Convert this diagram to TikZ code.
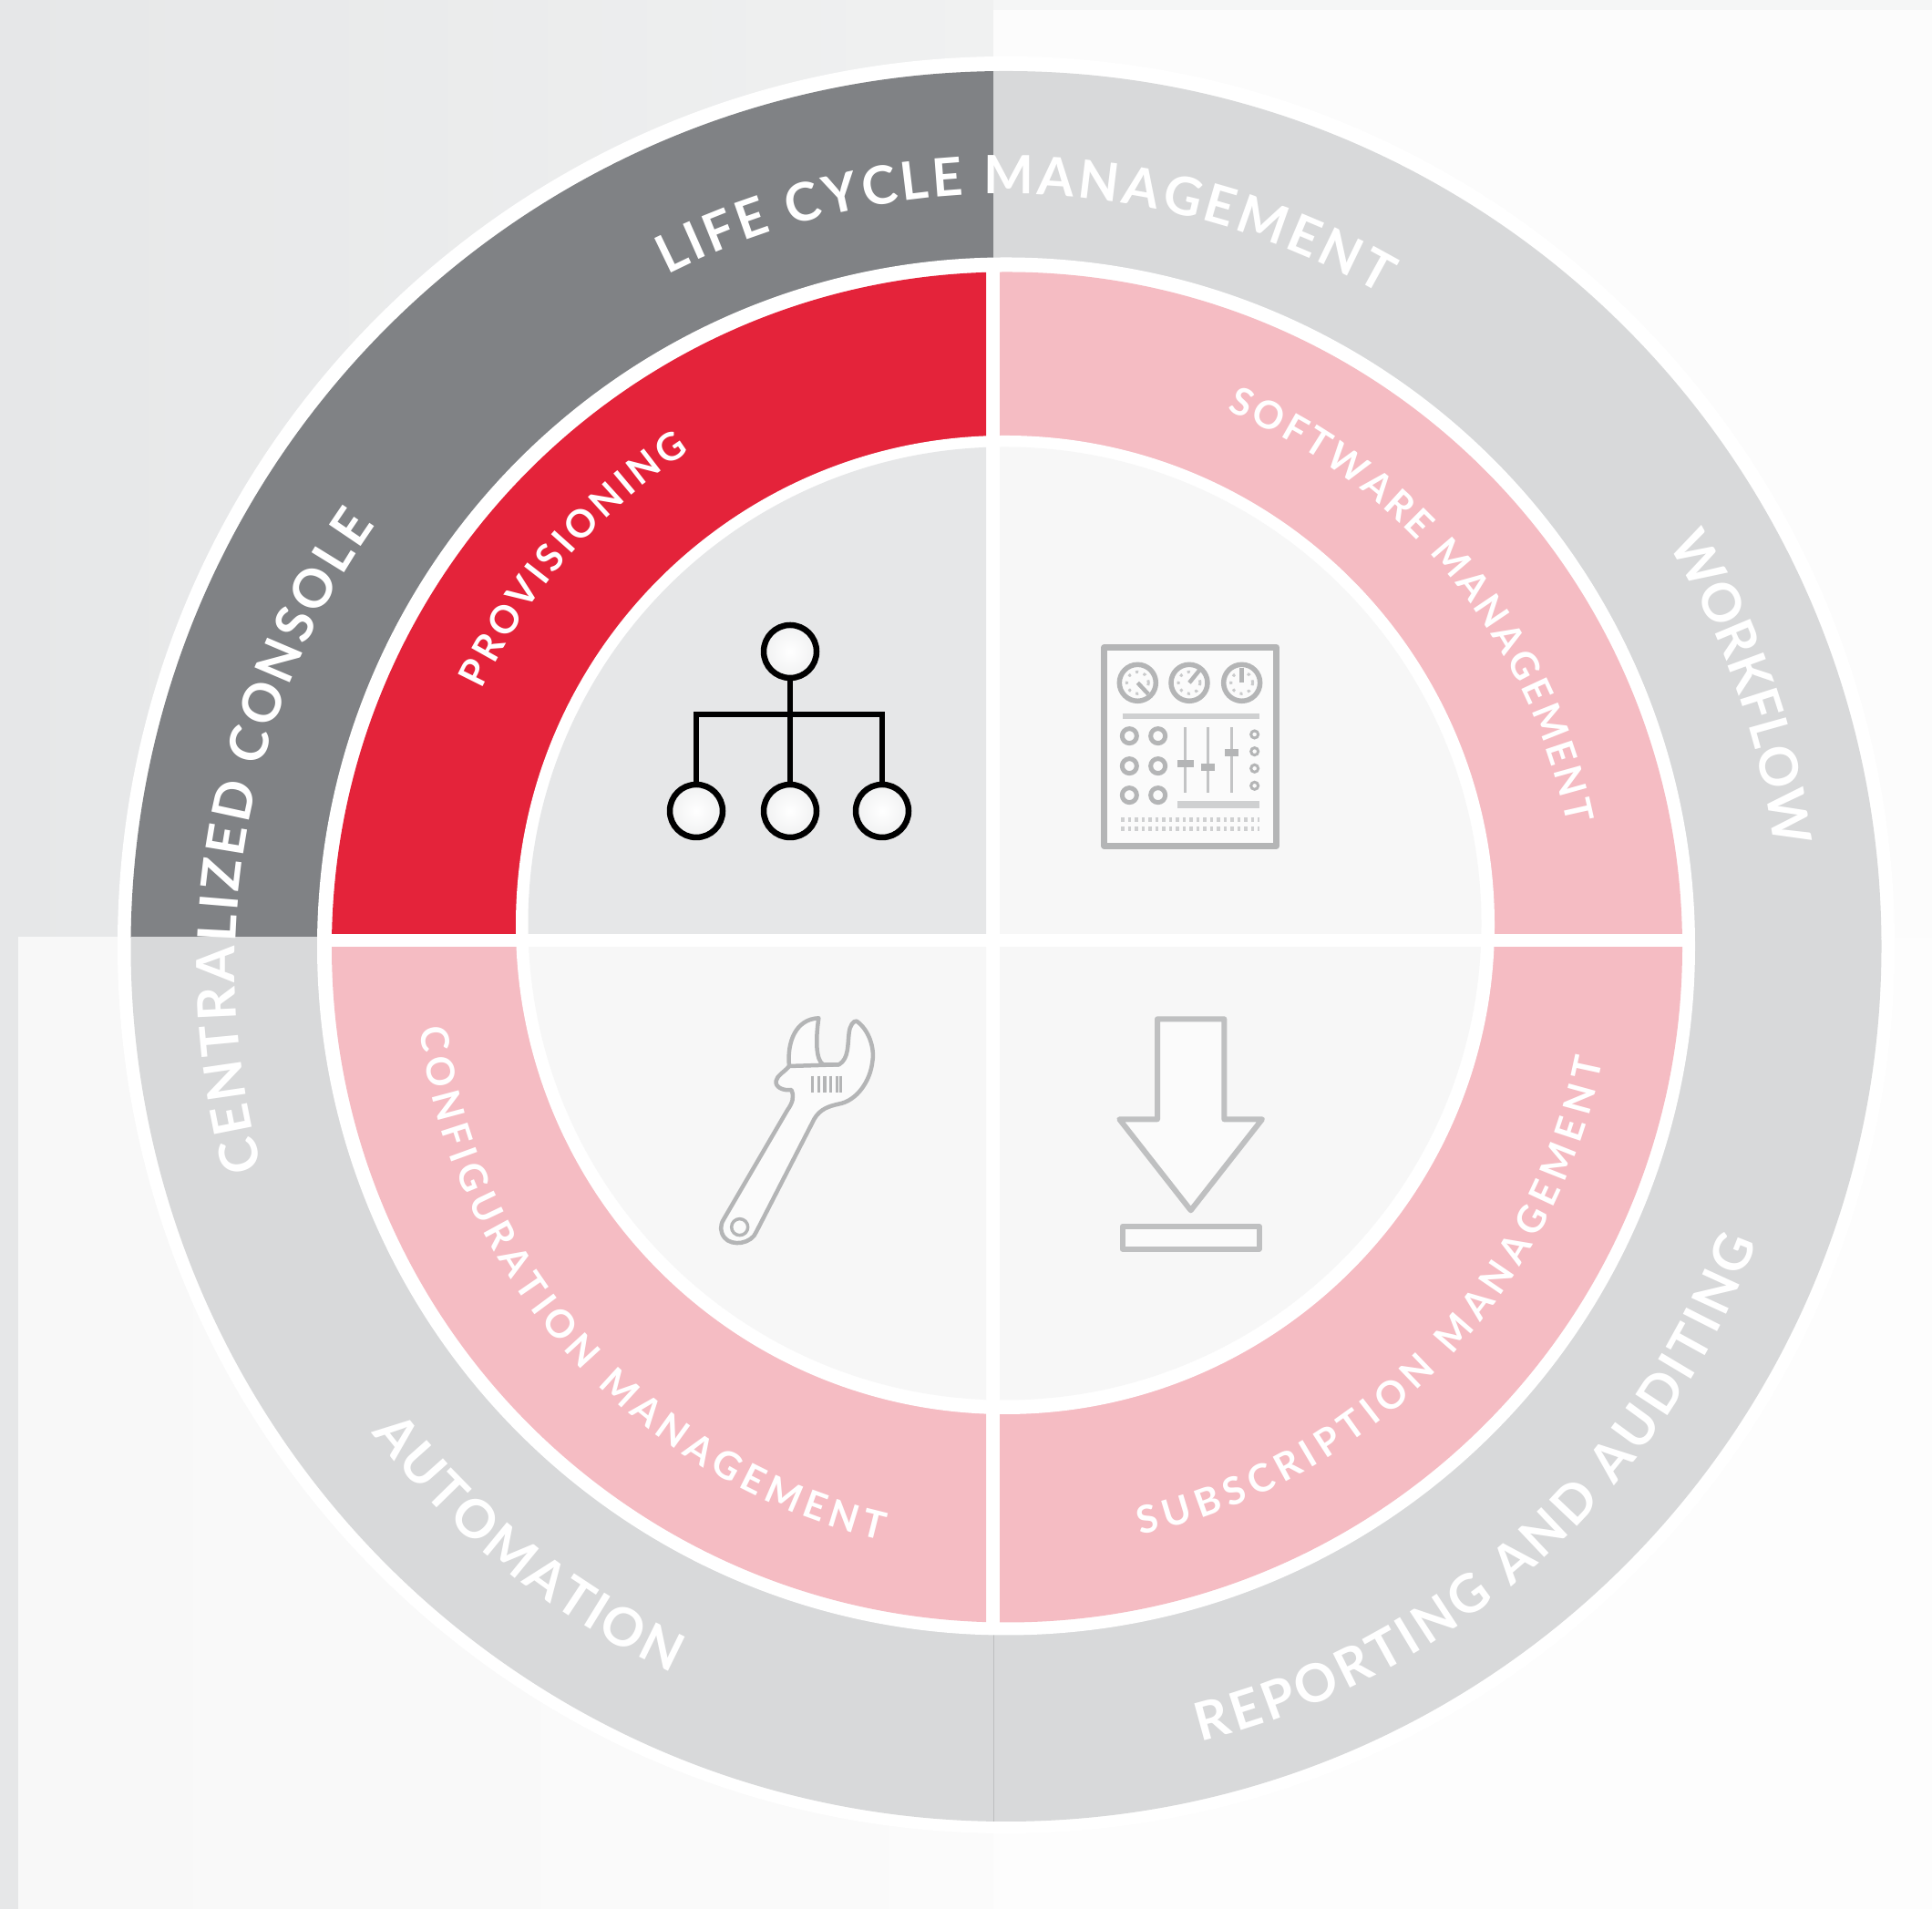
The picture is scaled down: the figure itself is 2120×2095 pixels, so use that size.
\documentclass[tikz,border=0pt]{standalone}
\usepackage{fontspec}
\usetikzlibrary{decorations.text,shadings}
\newfontfamily\labfont{Lato}[BoldFont={Lato Bold}]
\definecolor{pagegray}{HTML}{E6E7E8}
\definecolor{pagelight}{HTML}{F1F2F2}
\definecolor{panelA}{HTML}{FCFCFC}
\definecolor{panelB}{HTML}{F8F8F8}
\definecolor{panelC}{HTML}{FDFDFD}
\definecolor{ringdark}{HTML}{808285}
\definecolor{ringlight}{HTML}{D8D9DA}
\definecolor{redband}{HTML}{E4233A}
\definecolor{pinkband}{HTML}{F5BCC3}
\definecolor{discgray}{HTML}{E6E7E8}
\definecolor{disclight}{HTML}{F7F7F7}
\definecolor{iconline}{HTML}{B4B5B6}
\definecolor{iconpale}{HTML}{CFD0D1}
\newcommand\outerlab{\labfont\bfseries\fontsize{58}{58}\selectfont\color{white}}
\newcommand\innerlab{\labfont\bfseries\fontsize{42}{42}\selectfont\color{white}}
% centre x, centre y, radius, start angle, end angle, format, text
\newcommand\arctext[7]{%
  \path[shift={(#1,#2)},decorate,decoration={text along path,
     text={|#6|#7},text align={fit to path}}]
     (#4:#3) arc[start angle=#4,end angle=#5,radius=#3];}
\tikzset{
  orgnode/.style={circle,draw=black,line width=6.5pt,minimum size=58pt,inner sep=0pt,
     inner color=white,outer color=discgray!60},
  orgline/.style={draw=black,line width=6.5pt},
  iconstroke/.style={draw=iconline,line width=5pt,line join=round},
  zoomA/.style={shift={(#1)},x=0.3333pt,y=-0.3333pt}
}
\begin{document}
\begin{tikzpicture}[x=1pt,y=1pt]
\useasboundingbox (0,0) rectangle (2120,2095);
% page background and panels
\shade[left color=pagegray,right color=pagelight] (0,0) rectangle (1200,2095);
\fill[pagelight!70!white] (1090,0) rectangle (2120,2095);
\fill[panelA] (1090,1066) rectangle (2120,2084);
\shade[left color=panelB,right color=panelB!60!white] (20,0) rectangle (1090,1066);
\fill[panelC] (1090,0) rectangle (2120,1066);
% white halo
\fill[white] (1104,1058) circle[radius=975];
% outer ring
\begin{scope}\clip (0,1066) rectangle (1090.3,2095);
  \fill[ringdark] (1104,1056.5) circle[radius=960.5];\end{scope}
\begin{scope}\clip (1090.3,1066) rectangle (2120,2095);
  \fill[ringlight] (1104,1056.5) circle[radius=960.5];\end{scope}
\begin{scope}\clip (0,0) rectangle (2120,1066);
  \fill[ringlight] (1104,1056.5) circle[radius=960.5];\end{scope}
\draw[ringlight!88!black,line width=1pt] (1090.3,96) -- (1090.3,302);
\fill[white] (1104,1056.5) circle[radius=756];
% inner band quadrants
\begin{scope}\clip (0,1070) rectangle (1082,2095);
  \fill[redband] (1105,1055.5) circle[radius=741];\end{scope}
\begin{scope}\clip (1097,1070) rectangle (2120,2095);
  \fill[pinkband] (1105,1055.5) circle[radius=741];\end{scope}
\begin{scope}\clip (0,0) rectangle (1082,1055);
  \fill[pinkband] (1105,1055.5) circle[radius=741];\end{scope}
\begin{scope}\clip (1097,0) rectangle (2120,1055);
  \fill[pinkband] (1105,1055.5) circle[radius=741];\end{scope}
\fill[white] (1103,1080) circle[radius=537];
% centre disc quadrants
\begin{scope}\clip (0,1070) rectangle (1082,2095);
  \fill[discgray] (1102.5,1081.5) circle[radius=523];\end{scope}
\begin{scope}\clip (1097,1070) rectangle (2120,2095);
  \fill[disclight] (1102.5,1081.5) circle[radius=523];\end{scope}
\begin{scope}\clip (0,0) rectangle (1082,1055);
  \fill[disclight] (1102.5,1081.5) circle[radius=523];\end{scope}
\begin{scope}\clip (1097,0) rectangle (2120,1055);
  \fill[disclight] (1102.5,1081.5) circle[radius=523];\end{scope}
% ring labels
\arctext{1104}{1057}{825}{116.8}{60}{\outerlab}{LIFE CYCLE MANAGEMENT}
\arctext{1100}{1033}{842}{195.2}{144.8}{\outerlab}{CENTRALIZED CONSOLE}
\arctext{1104}{1057}{850}{31.3}{9}{\outerlab}{WORKFLOW}
\arctext{1104}{1035}{878}{-75.9}{-20.2}{\outerlab}{REPORTING AND AUDITING}
\arctext{1104}{1057}{878}{217.5}{245.3}{\outerlab}{AUTOMATION}
\arctext{1104}{1065}{637}{154.6}{123}{\innerlab}{PROVISIONING}
\arctext{1104}{1065}{628}{67.3}{11.5}{\innerlab}{SOFTWARE MANAGEMENT}
\arctext{1116}{1049}{661}{187.2}{257}{\innerlab}{CONFIGURATION MANAGEMENT}
\arctext{1104}{1061}{667}{-77.2}{-11.2}{\innerlab}{SUBSCRIPTION MANAGEMENT}
% org chart icon
\node[orgnode] (orgtop) at (867,1380) {};
\node[orgnode] (orgleft) at (764,1205) {};
\node[orgnode] (orgmid) at (867,1205) {};
\node[orgnode] (orgright) at (968,1205) {};
\coordinate (orgbus) at (867,1311);
\draw[orgline] (orgtop) -- (orgmid);
\draw[orgline] (orgleft) |- (orgbus) -| (orgright);
% dashboard icon
\begin{scope}[zoomA={1180,1415}]
  \draw[iconstroke,line width=7pt,fill=white,fill opacity=.6,draw opacity=1] (95,92) rectangle (662,745);
  \foreach \gx in {205,375,548}
    {\draw[iconline,line width=5.5pt] (\gx,208) circle[radius=20pt];
     \draw[iconline!70,line width=3pt,dash pattern=on 3pt off 6pt] (\gx,208) circle[radius=12pt];}
  \draw[iconline,line width=4.5pt] (205,208) -- (240,245);
  \draw[iconline,line width=4.5pt] (375,208) -- (410,165);
  \draw[iconline,line width=4.5pt] (548,208) -- (548,160);
  \draw[iconpale,line width=6pt] (155,317) -- (605,317);
  \foreach \kx in {178,272} \foreach \ky in {383,482,578}
    \draw[iconline,line width=5pt] (\kx,\ky) circle[radius=8pt];
  \draw[iconline!80,line width=3.5pt] (362,355) -- (362,570);
  \draw[iconline!80,line width=3.5pt] (437,355) -- (437,570);
  \draw[iconline!80,line width=3.5pt] (515,355) -- (515,570);
  \fill[iconline] (337,462) rectangle (390,486);
  \fill[iconline] (415,473) rectangle (460,497);
  \fill[iconline] (492,426) rectangle (538,450);
  \foreach \dy in {378,434,490,547}
    \draw[iconline,line width=3pt] (590,\dy) circle[radius=4pt];
  \fill[iconpale] (337,597) rectangle (605,620);
  \draw[iconpale,line width=4.5pt,dash pattern=on 3.5pt off 4pt] (150,658) -- (605,658);
  \draw[iconpale,line width=4.5pt,dash pattern=on 3.5pt off 4pt] (150,688) -- (605,688);
\end{scope}
% wrench icon
\begin{scope}[zoomA={760,1005}]
  \draw[iconstroke,line width=4.5pt,fill=white,fill opacity=.55,draw opacity=1]
    (102,745) -- (312,385) .. controls (330,360) and (335,340) .. (325,318)
    .. controls (300,322) and (270,310) .. (275,288)
    .. controls (280,268) and (300,262) .. (318,240)
    .. controls (310,160) and (340,85) .. (415,82)
    .. controls (405,150) and (405,220) .. (430,235)
    -- (482,235) .. controls (515,215) and (510,170) .. (515,130)
    .. controls (518,105) and (530,90) .. (540,92)
    .. controls (580,120) and (600,180) .. (592,225)
    .. controls (585,290) and (540,355) .. (480,365)
    .. controls (450,372) and (420,380) .. (400,415)
    -- (210,785) .. controls (195,825) and (130,835) .. (105,805)
    .. controls (90,785) and (90,765) .. (102,745) -- cycle;
  \draw[iconline,line width=4.5pt] (318,240) -- (482,235);
  \draw[iconline,line width=3.5pt] (155,770) circle[radius=9pt];
  \foreach \mx in {395,415,435,455,475,487}
    \draw[iconline,line width=3.5pt] (\mx,272) -- (\mx,328);
\end{scope}
% download icon
\begin{scope}[zoomA={1200,1005}]
  \draw[iconstroke,line width=6pt,draw=iconline!85,fill=white,fill opacity=.6,draw opacity=1]
    (210,85) -- (430,85) -- (430,415) -- (555,415) -- (320,715) -- (85,415) -- (210,415) -- cycle;
  \draw[iconstroke,line width=6pt,draw=iconline!85,fill=white,fill opacity=.6,draw opacity=1]
    (95,768) rectangle (545,842);
\end{scope}
\end{tikzpicture}
\end{document}
